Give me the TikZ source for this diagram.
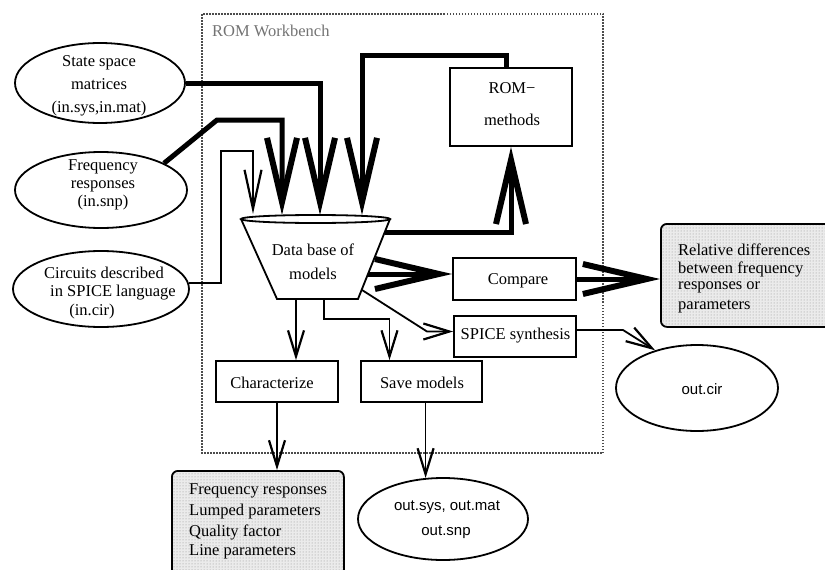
\documentclass[tikz,border=0pt]{standalone}
\usepackage{fontspec}
\setmainfont{Liberation Serif}
\newfontfamily\sansf{Liberation Sans}
\usetikzlibrary{arrows.meta,patterns,shapes.geometric,calc}
\tikzset{
  txt/.style={font=\fontsize{16.5}{21}\selectfont, inner sep=0pt},
  stxt/.style={font=\sansf\fontsize{15}{21}\selectfont, inner sep=0pt},
  procbox/.style={draw, line width=1.8pt, inner sep=0pt},
  ellip/.style={draw, ellipse, line width=1.8pt, inner sep=0pt},
  gbox/.style={draw, line width=1.8pt, rounded corners=6pt, inner sep=0pt,
    preaction={fill=black!8}, pattern=dots, pattern color=black!45},
  thickarr/.style={line width=5pt, -{Straight Barb[length=64pt,width=30pt,line width=6pt]}},
  thinarr/.style={line width=1.8pt, -{Straight Barb[length=26pt,width=16pt,line width=2.2pt]}},
  wb/.style={draw=black!70, line width=1.8pt, dash pattern=on 1.5pt off 1.5pt},
}
\begin{document}
\begin{tikzpicture}[x=1pt,y=-1pt]
\useasboundingbox (0,0) rectangle (825,570);

% workbench frame
\draw[wb] (202,14) rectangle (603,453);
\node[txt, text=black!55, anchor=west] (wbl) at (212,31) {ROM Workbench};

% input ellipses
\node[ellip, minimum width=170, minimum height=80] (ss) at (100,83) {};
\node[txt, align=center, font=\fontsize{16.5}{23}\selectfont] (sstxt) at (99,86) {State space\\matrices\\(in.sys,in.mat)};

\node[ellip, minimum width=172, minimum height=76] (fr) at (101,190) {};
\node[txt, align=center, font=\fontsize{16.5}{18}\selectfont] (frtxt) at (103,185) {Frequency\\responses\\(in.snp)};

\node[ellip, minimum width=176, minimum height=76] (ci) at (101,289) {};
\node[txt] (ci1) at (104,273) {Circuits described};
\node[txt] (ci2) at (113,293) {in SPICE language};
\node[txt] (ci3) at (92,312) {(in.cir)};

% data base trapezoid
\coordinate (dbTL) at (241,219);
\coordinate (dbTR) at (390,219);
\coordinate (dbBR) at (358,299);
\coordinate (dbBL) at (277,299);
\draw[line width=1.8pt, fill=white] (dbTL) -- (dbBL) -- (dbBR) -- (dbTR);
\draw[line width=1.8pt] (315.5,219) ellipse [x radius=74.5, y radius=4];
\node[txt, align=center, font=\fontsize{16.5}{24}\selectfont] (db) at (313,262) {Data base of\\models};
\coordinate (dbIn1) at (253,214);
\coordinate (dbIn2) at (282,215);
\coordinate (dbIn3) at (320,215);
\coordinate (dbIn4) at (362,215);
\coordinate (dbR1) at (385,232);
\coordinate (dbR2) at (368,274);
\coordinate (dbR3) at (362,290);
\coordinate (dbB1) at (296,299);
\coordinate (dbB2) at (324,299);

% process boxes
\node[procbox, minimum width=122, minimum height=78] (rom) at (511,107) {};
\node[txt, align=center] (romtxt) at (512,104) {ROM\textminus\\[11pt]methods};
\node[procbox, minimum width=123, minimum height=42] (cmp) at (514.5,279) {};
\node[txt] (cmptxt) at (518,281) {Compare};
\node[procbox, minimum width=122, minimum height=41] (sp) at (515,336.5) {};
\node[txt] (sptxt) at (515.5,336) {SPICE synthesis};
\node[procbox, minimum width=122, minimum height=41] (ch) at (277,381.5) {};
\node[txt] (chtxt) at (272,383) {Characterize};
\node[procbox, minimum width=121, minimum height=41] (sv) at (421.5,381.5) {};
\node[txt] (svtxt) at (422,383) {Save models};

% outputs
\node[gbox, anchor=north west, minimum width=170, minimum height=103] (rel) at (660,223) {};
\node[txt, anchor=west] (rel1) at (678,250) {Relative differences};
\node[txt, anchor=west] (rel2) at (678,269) {between frequency};
\node[txt, anchor=west] (rel3) at (678,287) {responses or};
\node[txt, anchor=west] (rel4) at (678,307) {parameters};

\node[ellip, minimum width=162, minimum height=86] (oc) at (697,388) {};
\node[stxt] (octxt) at (702,389) {out.cir};

\node[gbox, anchor=north west, minimum width=172, minimum height=110] (fb) at (171,470) {};
\node[txt, anchor=west] (fb1) at (189,491) {Frequency responses};
\node[txt, anchor=west] (fb2) at (189,512) {Lumped parameters};
\node[txt, anchor=west] (fb3) at (189,532) {Quality factor};
\node[txt, anchor=west] (fb4) at (189,552) {Line parameters};

\node[ellip, minimum width=170, minimum height=82] (os) at (443,519) {};
\node[stxt] (os1) at (447,507) {out.sys, out.mat};
\node[stxt] (os2) at (446,532) {out.snp};

% connectors into data base
\draw[thickarr] (ss.east) -| (dbIn3);
\draw[thickarr] (fr.23) -- (217,120) -| (dbIn2);
\draw[thinarr, -{Straight Barb[length=39pt,width=17pt,line width=2.2pt]}] (ci.4) -| (221,151) -| (dbIn1);
\draw[thickarr] ($(rom.north)+(-5,0)$) |- (362,55) -- (dbIn4);

% data base outputs
\draw[thickarr] (dbR1) -| (rom.south);
\draw[thickarr] (dbR2) -- (dbR2 -| cmp.west);
\draw[thinarr] (dbR3) -- (427,331.5) -- ($(sp.west)+(0,-5)$);
\draw[thinarr] (dbB1) -- (dbB1 |- ch.north);
\draw[thinarr] (dbB2) -- ++(0,20) -| ($(sv.north)+(-32,0)$);

% further connectors
\draw[thickarr] (cmp.east) -- (cmp.east -| rel.west);
\draw[thinarr] ($(sp.east)+(0,-6.5)$) -- (623,330) -- (oc.138);
\draw[thinarr] (ch.south) -- (ch.south |- fb.north);
\draw[thinarr] (os.113 |- sv.south) -- (os.113);
\end{tikzpicture}
\end{document}
